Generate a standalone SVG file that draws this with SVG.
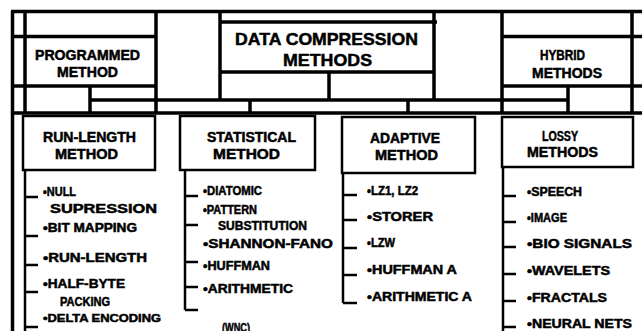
<svg xmlns="http://www.w3.org/2000/svg" width="642" height="331" viewBox="0 0 642 331">
<style>
.t{font-family:"Liberation Sans",Arial,Helvetica,sans-serif;font-weight:bold;fill:#000;stroke:#000;stroke-width:0.5}
.big{font-size:17px}
.h{font-size:14px}
.i{font-size:12.5px}
.s{font-size:11px}
.ln{stroke:#000;stroke-width:3.5;fill:none}
.bx{stroke:#000;stroke-width:2.5;fill:none}
.br{stroke:#000;stroke-width:2.5;fill:none}
</style>
<rect x="0" y="0" width="642" height="331" fill="#fff"/>
<g id="frame">
<path class="ln" d="M11 11.5H642 M12.5 11V331 M25 11V113 M156 11V113 M502 11V113 M632 11V113 M11 36.5H157 M502 36.5H642 M11 86H157 M502 86H642 M11 113H642"/>
</g>
<g id="data-compression">
<path class="ln" d="M220 22H437 M220 72H434 M220 11V100 M434 11V100"/>
<text class="t big" x="235" y="45" textLength="183" lengthAdjust="spacingAndGlyphs">DATA COMPRESSION</text>
<text class="t big" x="283" y="66" textLength="89" lengthAdjust="spacingAndGlyphs">METHODS</text>
</g>
<g id="programmed">
<text class="t h" x="35" y="60" textLength="105" lengthAdjust="spacingAndGlyphs">PROGRAMMED</text>
<text class="t h" x="57" y="77" textLength="61" lengthAdjust="spacingAndGlyphs">METHOD</text>
</g>
<g id="hybrid">
<text class="t h" x="540" y="60" textLength="45" lengthAdjust="spacingAndGlyphs">HYBRID</text>
<text class="t h" x="532" y="78" textLength="70" lengthAdjust="spacingAndGlyphs">METHODS</text>
</g>
<g id="connectors">
<path class="ln" d="M90 86V113 M568 86V113 M90 100H568 M329 72V100 M250 100V113 M408 100V113"/>
<path class="br" d="M25 170V331 M25 197H38 M25 236H38 M25 265H38 M25 292H38 M25 327H38"/>
<path class="br" d="M185 170V310 M185 196H198 M185 225H198 M185 262H198 M185 287H198 M185 310H198"/>
<path class="br" d="M343 173V303 M343 195H357 M343 220H357 M343 248H357 M343 275H357 M343 303H357"/>
<path class="br" d="M503 167V331 M503 196H516 M503 222H516 M503 247H516 M503 274H516 M503 301H516 M503 327H516"/>
</g>
<g id="run-length">
<rect class="bx" x="23" y="116" width="132" height="54"/>
<text class="t h" x="43" y="142" textLength="93" lengthAdjust="spacingAndGlyphs">RUN-LENGTH</text>
<text class="t h" x="55" y="159" textLength="63" lengthAdjust="spacingAndGlyphs">METHOD</text>
<text class="t i" x="43" y="196" textLength="33" lengthAdjust="spacingAndGlyphs">•NULL</text>
<text class="t i" x="50" y="213" textLength="107" lengthAdjust="spacingAndGlyphs">SUPRESSION</text>
<text class="t i" x="43" y="232" textLength="94" lengthAdjust="spacingAndGlyphs">•BIT MAPPING</text>
<text class="t i" x="43" y="262" textLength="104" lengthAdjust="spacingAndGlyphs">•RUN-LENGTH</text>
<text class="t i" x="43" y="288" textLength="82" lengthAdjust="spacingAndGlyphs">•HALF-BYTE</text>
<text class="t i" x="60" y="306" textLength="50" lengthAdjust="spacingAndGlyphs">PACKING</text>
<text class="t s" x="43" y="322" textLength="118" lengthAdjust="spacingAndGlyphs">•DELTA ENCODING</text>
</g>
<g id="statistical">
<rect class="bx" x="180" y="116" width="135" height="54"/>
<text class="t h" x="207" y="142" textLength="89" lengthAdjust="spacingAndGlyphs">STATISTICAL</text>
<text class="t h" x="213" y="159" textLength="67" lengthAdjust="spacingAndGlyphs">METHOD</text>
<text class="t i" x="203" y="195" textLength="59" lengthAdjust="spacingAndGlyphs">•DIATOMIC</text>
<text class="t i" x="203" y="214" textLength="54" lengthAdjust="spacingAndGlyphs">•PATTERN</text>
<text class="t i" x="218" y="230" textLength="89" lengthAdjust="spacingAndGlyphs">SUBSTITUTION</text>
<text class="t i" x="203" y="248" textLength="130" lengthAdjust="spacingAndGlyphs">•SHANNON-FANO</text>
<text class="t i" x="203" y="270" textLength="67" lengthAdjust="spacingAndGlyphs">•HUFFMAN</text>
<text class="t i" x="203" y="293" textLength="90" lengthAdjust="spacingAndGlyphs">•ARITHMETIC</text>
<text class="t i" x="222" y="332" textLength="28" lengthAdjust="spacingAndGlyphs">(WNC)</text>
</g>
<g id="adaptive">
<rect class="bx" x="342" y="117" width="133" height="56"/>
<text class="t h" x="370" y="143" textLength="70" lengthAdjust="spacingAndGlyphs">ADAPTIVE</text>
<text class="t h" x="375" y="160" textLength="63" lengthAdjust="spacingAndGlyphs">METHOD</text>
<text class="t i" x="367" y="195" textLength="51" lengthAdjust="spacingAndGlyphs">•LZ1, LZ2</text>
<text class="t i" x="367" y="221" textLength="66" lengthAdjust="spacingAndGlyphs">•STORER</text>
<text class="t i" x="367" y="247" textLength="28" lengthAdjust="spacingAndGlyphs">•LZW</text>
<text class="t i" x="367" y="274" textLength="90" lengthAdjust="spacingAndGlyphs">•HUFFMAN A</text>
<text class="t i" x="367" y="301" textLength="105" lengthAdjust="spacingAndGlyphs">•ARITHMETIC A</text>
</g>
<g id="lossy">
<rect class="bx" x="502" y="117" width="131" height="50"/>
<text class="t h" x="542" y="141" textLength="36" lengthAdjust="spacingAndGlyphs">LOSSY</text>
<text class="t h" x="527" y="157" textLength="71" lengthAdjust="spacingAndGlyphs">METHODS</text>
<text class="t i" x="527" y="196" textLength="55" lengthAdjust="spacingAndGlyphs">•SPEECH</text>
<text class="t i" x="527" y="222" textLength="40" lengthAdjust="spacingAndGlyphs">•IMAGE</text>
<text class="t i" x="527" y="248" textLength="105" lengthAdjust="spacingAndGlyphs">•BIO SIGNALS</text>
<text class="t i" x="527" y="275" textLength="83" lengthAdjust="spacingAndGlyphs">•WAVELETS</text>
<text class="t i" x="527" y="302" textLength="80" lengthAdjust="spacingAndGlyphs">•FRACTALS</text>
<text class="t i" x="527" y="328" textLength="105" lengthAdjust="spacingAndGlyphs">•NEURAL NETS</text>
</g>
</svg>
